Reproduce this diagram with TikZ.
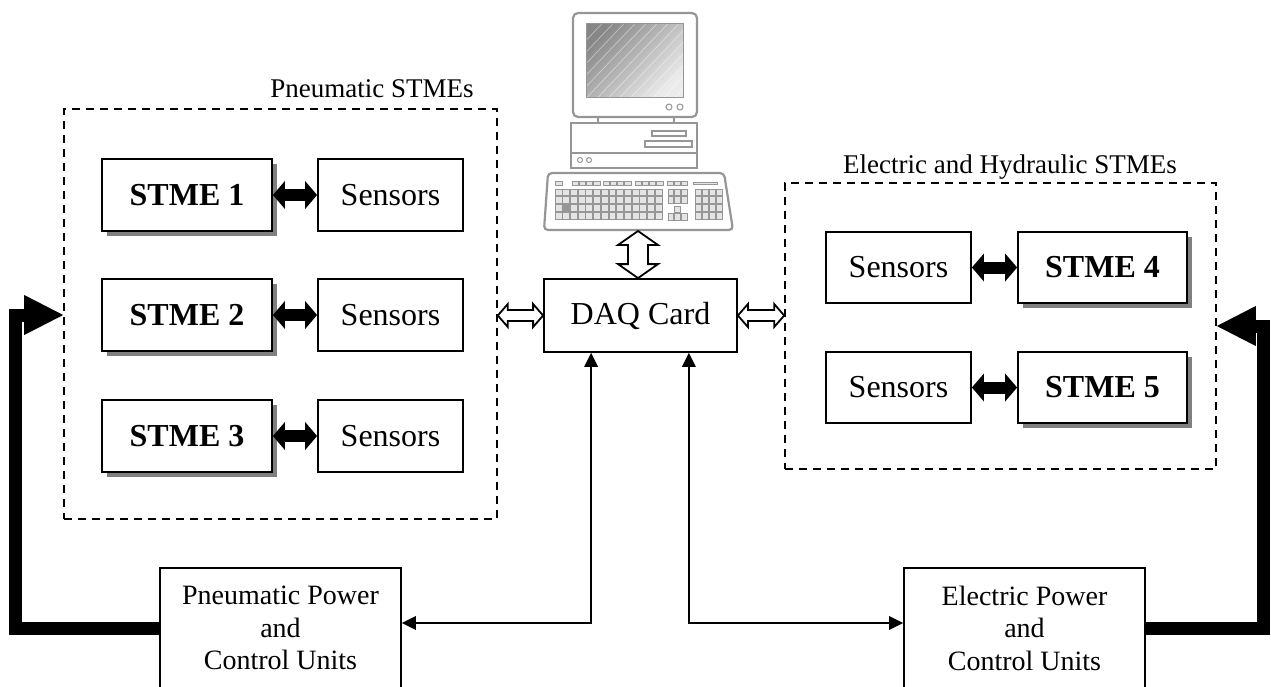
\documentclass[tikz,border=0pt]{standalone}
\usepackage{fontspec}
\setmainfont{Liberation Serif}
\usetikzlibrary{arrows.meta,calc,shadows}

\definecolor{shadowgray}{RGB}{128,128,128}
\definecolor{pcline}{RGB}{150,150,150}
\definecolor{pckey}{RGB}{228,228,228}
\definecolor{scrdark}{RGB}{135,135,135}
\definecolor{scrlight}{RGB}{235,235,235}

\begin{document}
\begin{tikzpicture}[x=1pt,y=-1pt,
  box/.style={draw, line width=1.8pt, fill=white, inner sep=0pt,
    minimum height=72pt, font=\fontsize{32}{38}\selectfont},
  stmebox/.style={box, minimum width=170pt,
    font=\fontsize{32}{38}\selectfont\bfseries,
    drop shadow={shadow xshift=5pt, shadow yshift=-5pt, fill=shadowgray, opacity=1}},
  sensorbox/.style={box, minimum width=145pt},
  groupbox/.style={draw, line width=1.6pt, dash pattern=on 8pt off 6pt,
    inner sep=0pt},
  grouplabel/.style={font=\fontsize{27}{32}\selectfont, anchor=base, inner sep=0pt},
  powerbox/.style={draw, line width=1.8pt, fill=white, inner sep=0pt,
    minimum width=241pt, minimum height=120pt, align=center,
    font=\fontsize{28}{32.5}\selectfont},
  linkarrow/.style={line width=12pt,
    {Triangle[length=12pt,width=28pt,line width=0pt]}-{Triangle[length=12pt,width=28pt,line width=0pt]}},
  feedarrow/.style={line width=13pt, line join=miter,
    -{Triangle[length=39pt,width=40pt,line width=0pt]}},
  signalarrow/.style={line width=1.8pt,
    {Triangle[length=14pt,width=14pt,line width=0pt]}-{Triangle[length=14pt,width=14pt,line width=0pt]}},
  hollow/.style={draw, line width=1.8pt, fill=white, line join=miter},
  pc/.style={draw=pcline, line width=2.2pt, fill=white},
  key/.style={draw=pcline, line width=0.7pt, fill=pckey},
]
\useasboundingbox (0,0) rectangle (1271,686);
\clip (0,0) rectangle (1271,686);

% ---------- computer ----------
% monitor
\draw[pc, rounded corners=5pt] (573,13) rectangle (697,117);
\shade[top color=scrdark, bottom color=scrlight, shading angle=45]
  (586,23) rectangle (683,97);
\begin{scope}
  \clip (586,23) rectangle (683,97);
  \foreach \i in {0,...,14}
    \draw[white, opacity=0.45, line width=0.7pt] ({520+\i*11},110) -- ++(95,-100);
\end{scope}
\draw[draw=pcline, line width=1pt] (586,23) rectangle (683,97);
\draw[pcline, line width=1pt] (669,107) circle (3pt) (680,107) circle (3pt);
% neck
\draw[pcline, line width=2pt] (598,117) -- (598,123) (674,117) -- (674,123);
% system unit
\draw[pc] (571,123) rectangle (697,168);
\draw[pcline, line width=1.6pt] (571,153) -- (697,153);
\draw[pcline, line width=1.2pt] (652,131) rectangle (686,136);
\draw[pcline, line width=1.2pt] (645,141) rectangle (692,147);
\draw[pcline, line width=1pt] (580,160) circle (2.5pt) (589,160) circle (2.5pt);
% keyboard
\draw[pc, rounded corners=4pt] (548,173) -- (724,173) -- (733,230) -- (544,230) -- cycle;
\coordinate (kbd) at (638,231);
% function row
\draw[key] (555,181) rectangle (562,185);
\foreach \g in {572,603,635} \foreach \k in {0,...,3}
  \draw[key] ({\g+\k*7.2},181) rectangle ++(6.4,4);
\foreach \k in {0,...,2}
  \draw[key] ({667+\k*7},181) rectangle ++(6.2,4);
\draw[key] (693,182) rectangle (717,184);
% main block
\foreach \r in {0,...,3} \foreach \c in {0,...,13}
  \draw[key] ({555+\c*7.7},{189+\r*7.8}) rectangle ++(6.9,6.8);
\fill[pcline] (563,205.2) rectangle ++(6.9,6.8);
% navigation cluster
\foreach \r in {0,1} \foreach \c in {0,...,2}
  \draw[key] ({668+\c*6.6},{189+\r*7.8}) rectangle ++(5.8,6.8);
\draw[key] (674.6,206) rectangle ++(5.8,6.6);
\foreach \c in {0,...,2}
  \draw[key] ({668+\c*6.6},213.4) rectangle ++(5.8,6.6);
% numeric pad
\foreach \r in {0,...,3} \foreach \c in {0,...,3}
  \draw[key] ({695+\c*7},{189+\r*7.8}) rectangle ++(6.2,6.8);

% ---------- group frames ----------
\node[groupbox, minimum width=433pt, minimum height=410pt] (pbox) at (280.5,314) {};
\node[grouplabel] (plabel) at (372,97) {Pneumatic STMEs};
\node[groupbox, minimum width=431pt, minimum height=286pt] (ebox) at (1000.5,326) {};
\node[grouplabel] (elabel) at (1010,173) {Electric and Hydraulic STMEs};

% ---------- pneumatic STMEs ----------
\node[stmebox] (s1) at (187,195) {STME 1};
\node[sensorbox] (n1) at (390.5,195) {Sensors};
\node[stmebox] (s2) at (187,315) {STME 2};
\node[sensorbox] (n2) at (390.5,315) {Sensors};
\node[stmebox] (s3) at (187,436) {STME 3};
\node[sensorbox] (n3) at (390.5,436) {Sensors};

% ---------- electric and hydraulic STMEs ----------
\node[sensorbox, minimum height=71pt] (n4) at (898.5,267.5) {Sensors};
\node[stmebox, minimum width=169pt, minimum height=71pt] (s4) at (1102.5,267.5) {STME 4};
\node[sensorbox, minimum height=71pt] (n5) at (898.5,387.5) {Sensors};
\node[stmebox, minimum width=169pt, minimum height=71pt] (s5) at (1102.5,387.5) {STME 5};

% ---------- DAQ and power units ----------
\node[box, minimum width=193pt, minimum height=73pt] (daq) at (640.5,315.5) {DAQ Card};
\node[powerbox] (pnu) at (280.5,628) {Pneumatic Power\\and\\Control Units};
\node[powerbox] (ele) at (1024.5,628) {Electric Power\\and\\Control Units};

% ---------- STME <-> sensor links ----------
\draw[linkarrow] (s1.east) -- (n1.west);
\draw[linkarrow] (s2.east) -- (n2.west);
\draw[linkarrow] (s3.east) -- (n3.west);
\draw[linkarrow] (n4.east) -- (s4.west);
\draw[linkarrow] (n5.east) -- (s5.west);

% ---------- data buses (hollow double arrows) ----------
\coordinate (pa) at (pbox.east |- daq.west);
\draw[hollow] (pa) -- ++(10,-11.5) -- ++(0,6) -- ($(daq.west)+(-10,-5.5)$)
  -- ++(0,-6) -- (daq.west) -- ++(-10,11.5) -- ++(0,-6)
  -- ($(pa)+(10,5.5)$) -- ++(0,6) -- cycle;
\coordinate (ea) at (ebox.west |- daq.east);
\draw[hollow] (daq.east) -- ++(10,-11.5) -- ++(0,6) -- ($(ea)+(-10,-5.5)$)
  -- ++(0,-6) -- (ea) -- ++(-10,11.5) -- ++(0,-6)
  -- ($(daq.east)+(10,5.5)$) -- ++(0,6) -- cycle;
\coordinate (da) at (kbd |- daq.north);
\draw[hollow] (kbd) -- ++(20,14) -- ++(-10,0) -- ($(da)+(10,-14)$)
  -- ++(10,0) -- (da) -- ++(-20,-14) -- ++(10,0)
  -- ($(kbd)+(-10,14)$) -- ++(-10,0) -- cycle;

% ---------- control signals ----------
\draw[signalarrow] ([yshift=5pt]pnu.east) -| ([xshift=48pt]daq.south west);
\draw[signalarrow] ([yshift=5pt]ele.west) -| ([xshift=-49pt]daq.south east);

% ---------- power feeds ----------
\draw[feedarrow] (pnu.west) -| ($(pbox.west |- s2)+(-47.5,0)$) -- (pbox.west |- s2);
\draw[feedarrow] (ele.east) -| ($(ebox.east)+(47,0)$) -- (ebox.east);
\end{tikzpicture}
\end{document}
